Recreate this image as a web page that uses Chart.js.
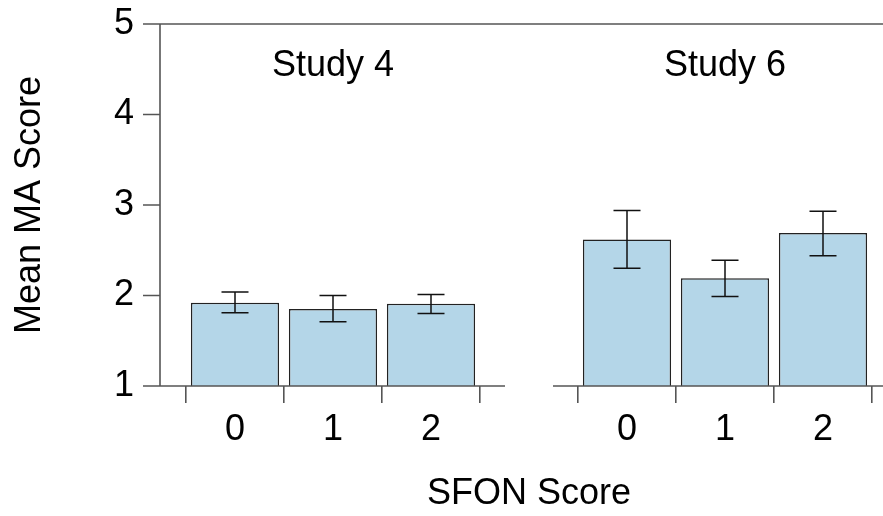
<!DOCTYPE html>
<html>
<head>
<meta charset="utf-8">
<script src="https://cdn.jsdelivr.net/npm/chart.js@4"></script>
<style>
  html, body { margin: 0; padding: 0; background: #fff; }
  #wrap { width: 883px; height: 516px; }
</style>
</head>
<body>
<div id="wrap"><canvas id="myChart" width="883" height="516"></canvas></div>
<script>
// data
const xLabels = ['0', '1', '2', '', '0', '1', '2'];
const means = [1.92, 1.85, 1.91, null, 2.62, 2.19, 2.69];
const errLow = [1.81, 1.71, 1.80, null, 2.30, 1.99, 2.44];
const errHigh = [2.04, 2.00, 2.01, null, 2.94, 2.39, 2.93];
const panelTitles = ['Study 4', 'Study 6'];
const panelCenters = [1, 5];
const yTicks = [1, 2, 3, 4, 5];

const FONT = "'Liberation Sans', Arial, sans-serif";
const LINE = '#555';

// axis frame: y spine, y ticks, top line and split bottom line
const framePlugin = {
  id: 'frame',
  afterDraw(chart) {
    const ctx = chart.ctx;
    const x = chart.scales.x, y = chart.scales.y;
    const spineX = chart.chartArea.left - 26;
    const cw = x.getPixelForValue(1) - x.getPixelForValue(0);
    const yTop = y.getPixelForValue(5), yBot = y.getPixelForValue(1);
    ctx.save();
    ctx.strokeStyle = LINE;
    ctx.lineWidth = 1.6;
    ctx.beginPath();
    ctx.moveTo(spineX, yTop); ctx.lineTo(spineX, yBot);
    yTicks.forEach(v => {
      const py = y.getPixelForValue(v);
      ctx.moveTo(spineX - 17, py); ctx.lineTo(spineX, py);
    });
    ctx.moveTo(spineX, yTop); ctx.lineTo(chart.width, yTop);
    ctx.moveTo(spineX, yBot); ctx.lineTo(x.getPixelForValue(2) + cw / 2 + 25, yBot);
    ctx.moveTo(x.getPixelForValue(3) + cw / 2 - 25, yBot); ctx.lineTo(chart.width, yBot);
    ctx.stroke();

    // panel titles
    ctx.fillStyle = '#000';
    ctx.font = '36px ' + FONT;
    ctx.textAlign = 'center';
    ctx.textBaseline = 'middle';
    panelTitles.forEach((t, i) => {
      ctx.fillText(t, x.getPixelForValue(panelCenters[i]), 66);
    });
    ctx.restore();
  }
};

// error bars from errLow / errHigh
const errorBarPlugin = {
  id: 'errorBars',
  afterDatasetsDraw(chart) {
    const ctx = chart.ctx;
    const x = chart.scales.x, y = chart.scales.y;
    ctx.save();
    ctx.strokeStyle = '#111';
    ctx.lineWidth = 1.5;
    ctx.beginPath();
    means.forEach((m, i) => {
      if (m === null) return;
      const px = x.getPixelForValue(i);
      const lo = y.getPixelForValue(errLow[i]);
      const hi = y.getPixelForValue(errHigh[i]);
      ctx.moveTo(px, lo); ctx.lineTo(px, hi);
      ctx.moveTo(px - 13.5, lo); ctx.lineTo(px + 13.5, lo);
      ctx.moveTo(px - 13.5, hi); ctx.lineTo(px + 13.5, hi);
    });
    ctx.stroke();
    ctx.restore();
  }
};

const ctx1 = document.getElementById('myChart');

new Chart(ctx1, {
  type: 'bar',
  data: {
    labels: xLabels,
    datasets: [{
      label: 'Mean MA Score',
      data: means,
      backgroundColor: '#b4d6e8',
      borderColor: '#222',
      borderWidth: 1.5,
      barPercentage: 0.9,
      categoryPercentage: 1.0
    }]
  },
  options: {
    responsive: false,
    animation: false,
    devicePixelRatio: 1,
    layout: { padding: { top: 24, right: 11, left: 0, bottom: 0 } },
    plugins: { legend: { display: false }, tooltip: { enabled: false } },
    scales: {
      x: {
        offset: true,
        grid: { display: true, offset: true, drawOnChartArea: false, drawTicks: true, tickLength: 17, color: LINE, lineWidth: 1.6 },
        border: { display: false },
        ticks: { color: '#000', font: { family: FONT, size: 36 }, padding: 5, maxRotation: 0, autoSkip: false },
        title: { display: true, text: 'SFON Score', color: '#000', font: { family: FONT, size: 36 }, padding: { top: 0, bottom: 0 } },
        afterFit(scale) { scale.height = 130; }
      },
      y: {
        min: 1,
        max: 5,
        grid: { display: false, drawTicks: false },
        border: { display: false },
        ticks: { stepSize: 1, color: '#000', font: { family: FONT, size: 36 }, padding: 52 },
        title: { display: true, text: 'Mean MA Score', color: '#000', font: { family: FONT, size: 36 }, padding: { top: 8, bottom: 0 } },
        afterFit(scale) {
          scale.width = 186;
          scale.paddingTop = 0;
          scale.paddingBottom = 0;
        }
      }
    }
  },
  plugins: [framePlugin, errorBarPlugin]
});
</script>
</body>
</html>
